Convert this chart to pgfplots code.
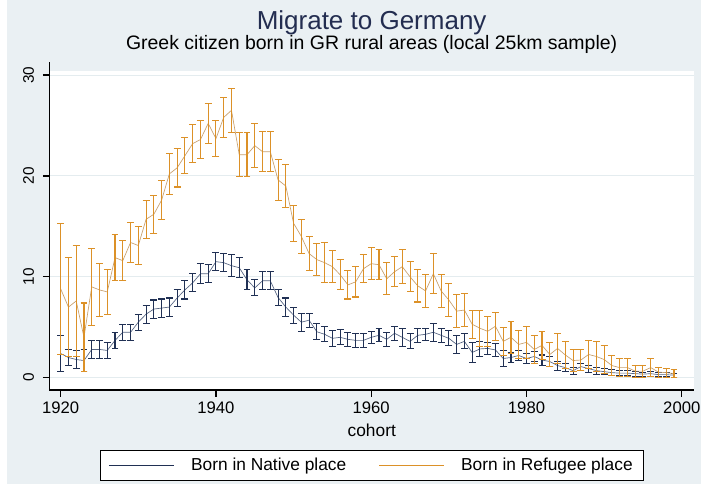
\documentclass[border=0pt]{standalone}
\usepackage{fontspec}
\setmainfont{Liberation Sans}
\usepackage{pgfplots}
\usepackage{pgfplotstable}
\pgfplotsset{compat=1.18}
\definecolor{bgc}{RGB}{234,240,243}
\definecolor{snavy}{RGB}{32,48,84}
\definecolor{snavyl}{RGB}{85,100,130}
\definecolor{sorange}{RGB}{220,145,40}
\definecolor{sorangel}{RGB}{200,160,110}
\definecolor{gridc}{RGB}{228,236,239}
\definecolor{titlec}{RGB}{35,45,80}

\pgfplotstableread{
year nat nate ref refe
1920 2.4 1.8 8.8 6.5
1921 2.0 0.8 7.0 4.9
1922 1.8 0.9 7.6 5.5
1923 1.7 1.1 4.0 3.4
1924 2.8 0.9 9.0 3.8
1925 2.8 0.9 8.7 2.6
1926 2.7 0.8 8.5 2.2
1927 3.7 0.8 11.9 2.3
1928 4.5 0.8 11.6 2.0
1929 4.5 0.8 13.4 2.0
1930 5.5 0.8 13.1 1.9
1931 6.3 0.9 15.7 1.9
1932 6.8 0.9 16.2 1.9
1933 6.9 0.9 17.6 1.9
1934 7.0 0.9 20.2 2.0
1935 7.9 0.8 20.8 1.9
1936 8.7 0.9 22.0 1.8
1937 9.4 0.9 23.2 1.9
1938 10.3 1.0 23.6 1.9
1939 10.3 0.9 25.2 2.0
1940 11.5 0.9 23.7 1.8
1941 11.4 0.9 25.8 2.0
1942 11.1 1.1 26.5 2.2
1943 10.9 1.0 22.1 2.2
1944 9.7 1.0 22.1 2.2
1945 8.9 0.8 23.0 2.2
1946 9.6 0.9 22.4 2.0
1947 9.6 0.9 22.4 2.0
1948 7.95 0.75 19.6 2.0
1949 7.0 0.9 19.0 2.1
1950 6.2 0.8 15.3 1.8
1951 5.5 0.9 14.0 1.7
1952 5.7 0.7 12.3 1.7
1953 4.55 0.8 11.7 1.6
1954 4.3 0.75 11.4 2.0
1955 3.9 0.8 11.0 1.6
1956 4.0 0.75 10.2 1.5
1957 3.8 0.7 9.2 1.4
1958 3.7 0.7 9.5 1.5
1959 3.7 0.7 10.8 1.4
1960 4.0 0.6 11.3 1.6
1961 4.2 0.65 11.2 1.5
1962 3.8 0.7 9.8 1.6
1963 4.4 0.7 10.5 1.5
1964 4.0 0.9 11.0 1.7
1965 3.6 0.75 10.0 1.5
1966 4.2 0.7 9.1 1.6
1967 4.3 0.6 8.6 1.6
1968 4.5 0.9 10.3 2.0
1969 4.2 0.7 8.6 1.6
1970 3.9 0.75 7.7 1.6
1971 3.3 0.9 6.6 1.6
1972 3.6 0.75 6.7 1.6
1973 2.5 1.0 5.3 1.4
1974 2.85 0.75 4.9 1.8
1975 2.9 0.6 4.6 1.5
1976 2.75 0.65 5.1 1.4
1977 1.9 0.8 3.6 1.4
1978 2.0 0.5 4.0 1.6
1979 2.2 0.5 3.3 1.4
1980 1.9 0.5 3.5 1.6
1981 2.1 0.5 2.8 1.4
1982 1.75 0.5 3.2 1.4
1983 1.6 0.5 2.3 1.2
1984 1.2 0.45 2.9 1.5
1985 1.0 0.4 2.25 1.3
1986 0.7 0.35 1.7 1.1
1987 1.1 0.35 1.75 1.0
1988 0.9 0.35 2.3 1.4
1989 0.7 0.35 2.1 1.5
1990 0.6 0.3 1.8 1.4
1991 0.5 0.3 1.2 1.0
1992 0.45 0.25 1.0 0.9
1993 0.45 0.25 1.0 0.9
1994 0.4 0.25 0.65 0.6
1995 0.35 0.2 0.65 0.6
1996 0.4 0.25 1.0 0.9
1997 0.3 0.2 0.55 0.5
1998 0.3 0.2 0.5 0.45
1999 0.25 0.2 0.4 0.4
}\data

\begin{document}
\begin{tikzpicture}
\fill[white] (-37.125pt,-70.5pt) rectangle (493.875pt,292.5pt);
\fill[bgc] (-31.875pt,-70.5pt) rectangle (488.625pt,292.5pt);
\fill[white] (0.4pt,0pt) rectangle (483.4pt,239pt);
\begin{axis}[
  scale only axis, width=483.4pt, height=246pt,
  xmin=1918.56, xmax=2001.58, ymin=-1.22, ymax=31.29,
  axis x line*=bottom, axis y line*=left,
  axis line style={black, line width=0.9pt, -},
  xtick={1920,1940,1960,1980,2000}, ytick={0,10,20,30},
  /pgf/number format/1000 sep={},
  /pgf/number format/assume math mode=true,
  tick style={black, line width=0.9pt},
  major tick length=5pt, tick align=outside,
  ymajorgrids, grid style={gridc, line width=0.7pt},
  yticklabel style={rotate=90, anchor=south, font=\fontsize{11.5}{13}\selectfont},
  yticklabel shift=3pt,
  xticklabel style={font=\fontsize{12.5}{14}\selectfont},
  xlabel={cohort},
  xlabel style={at={(axis description cs:0.5,-0.122)}, anchor=center, font=\fontsize{13}{15}\selectfont},
  legend style={at={(axis description cs:0.5,-0.2302)}, anchor=center, draw=black, line width=0.6pt,
    fill=white, font=\fontsize{13}{15}\selectfont, inner xsep=6pt, inner ysep=3.5pt},
  legend columns=2,
  /tikz/every odd column/.append style={column sep=10pt},
  /tikz/every even column/.append style={column sep=22pt},
]
\addplot[snavyl, line width=0.5pt, mark=none, forget plot,
  error bars/.cd, y dir=both, y explicit,
  error bar style={line width=0.8pt, snavy},
  error mark options={rotate=90, line width=0.8pt, mark size=2.6pt, snavy}]
  table[x=year, y=nat, y error=nate] {\data};
\addplot[sorangel, line width=0.5pt, mark=none, forget plot,
  error bars/.cd, y dir=both, y explicit,
  error bar style={line width=0.8pt, sorange},
  error mark options={rotate=90, line width=0.8pt, mark size=2.6pt, sorange}]
  table[x=year, y=ref, y error=refe] {\data};
\addlegendimage{legend image code/.code={\draw[snavy, line width=1.2pt] (0pt,0pt) -- (49pt,0pt);}}
\addlegendentry{Born in Native place}
\addlegendimage{legend image code/.code={\draw[sorange, line width=1.2pt] (0pt,0pt) -- (49pt,0pt);}}
\addlegendentry{Born in Refugee place}
\end{axis}
\node[titlec, font=\fontsize{19.5}{22}\selectfont] at (241.6pt,275.5pt) {Migrate to Germany};
\node[black, font=\fontsize{14.6}{17}\selectfont] at (241.6pt,259pt) {Greek citizen born in GR rural areas (local 25km sample)};
\end{tikzpicture}
\end{document}
